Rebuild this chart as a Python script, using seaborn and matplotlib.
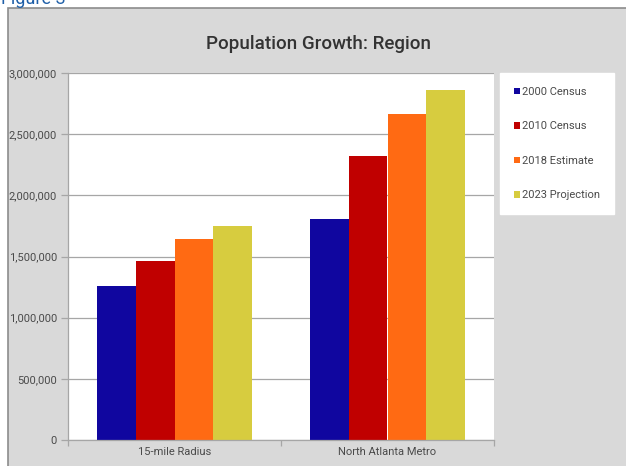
import matplotlib
matplotlib.use("Agg")
import matplotlib.pyplot as plt
import matplotlib.patches as mpatches
import seaborn as sns
import pandas as pd

regions = ["15-mile Radius", "North Atlanta Metro"]
series = ["2000 Census", "2010 Census", "2018 Estimate", "2023 Projection"]
v2000 = [1262000, 1806000]
v2010 = [1463000, 2322000]
v2018 = [1645000, 2668000]
v2023 = [1750000, 2860000]
colors = ["#10069f", "#c00000", "#ff6a13", "#d7cc3f"]
yticks = [0, 500000, 1000000, 1500000, 2000000, 2500000, 3000000]

rows = []
for s, vals in zip(series, [v2000, v2010, v2018, v2023]):
    for r, v in zip(regions, vals):
        rows.append({"Region": r, "Series": s, "Population": v})
df = pd.DataFrame(rows)

sns.set_theme(style="white")
plt.rcParams['font.family'] = ['Roboto', 'DejaVu Sans']

fig = plt.figure(figsize=(6.26, 4.66), dpi=100)
fig.patch.set_facecolor("white")
W, H = 626, 466
# chart box background
box = mpatches.Rectangle((8 / W, -0.01), 1, 1.01 - 8 / H, transform=fig.transFigure,
                         facecolor="#d9d9d9", edgecolor="#8c8c8c", linewidth=1.2,
                         zorder=-5)
fig.patches.append(box)
fig.text(0.002, 1.0 + 1 / H, "Figure 3", color="#1f5fa8", fontsize=13,
         ha="left", va="center")

ax = fig.add_axes([68 / W, 1 - 440 / H, (494 - 68) / W, (440 - 73) / H])
ax.set_zorder(2)
ax.set_facecolor("white")
sns.barplot(data=df, x="Region", y="Population", hue="Series", hue_order=series,
            order=regions, palette=colors, width=0.73, gap=0, dodge=True,
            saturation=1, ax=ax, legend=False, linewidth=0)
ax.set_ylim(0, 3000000)
ax.set_xlim(-0.5, 1.5)
ax.set_yticks(yticks)
ax.set_yticklabels([f"{t:,}" for t in yticks], fontsize=8, color="#4a4a4a")
ax.yaxis.grid(True, color="#a6a6a6", linewidth=0.9)
ax.set_axisbelow(True)
ax.tick_params(axis="y", length=5, color="#a6a6a6", width=0.9, pad=3, left=True)
ax.set_xticks([0, 1])
ax.set_xticklabels(regions, fontsize=8, color="#4a4a4a")
ax.tick_params(axis="x", length=0, pad=5)
ax.set_xticks([-0.5, 0.5, 1.5], minor=True)
ax.tick_params(axis="x", which="minor", length=4, color="#a6a6a6", width=0.9, bottom=True)
ax.set_xlabel("")
ax.set_ylabel("")
for s in ["top", "right"]:
    ax.spines[s].set_visible(False)
for s in ["left", "bottom"]:
    ax.spines[s].set_color("#a6a6a6")
    ax.spines[s].set_linewidth(0.9)

fig.text(319 / W, 1 - 44 / H, "Population Growth: Region",
         ha="center", va="center", fontsize=13.5, fontweight="medium", color="#333333")

# legend
handles = [mpatches.Patch(facecolor=c, edgecolor="none", label=s) for s, c in zip(series, colors)]
leg = fig.legend(handles=handles, loc="upper left",
                 bbox_to_anchor=(500 / W, 1 - 73 / H), frameon=True,
                 fancybox=False, fontsize=8, handlelength=0.55, handleheight=0.55,
                 handletextpad=0.2, labelspacing=2.2, borderpad=1.25,
                 labelcolor="#4a4a4a", borderaxespad=0, framealpha=1)
leg.get_frame().set_facecolor("white")
leg.get_frame().set_edgecolor("white")
leg.set_zorder(3)

fig.savefig("out.png", dpi=100)
